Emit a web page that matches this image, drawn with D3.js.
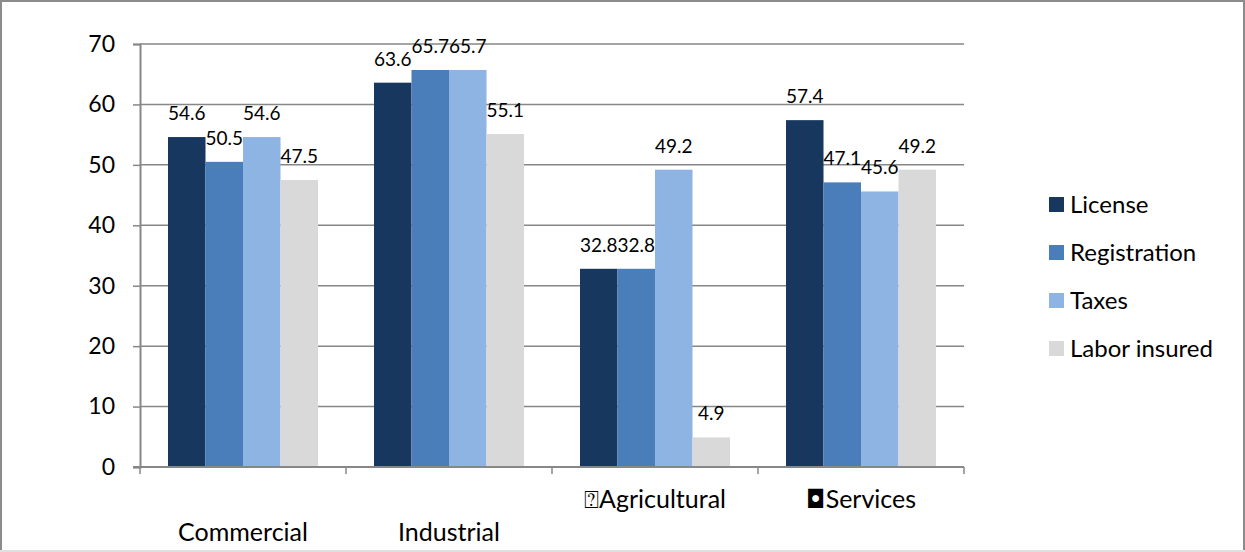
<!DOCTYPE html>
<html>
<head>
<meta charset="utf-8">
<script src="https://cdn.jsdelivr.net/npm/d3@7"></script>
<style>
  body { margin: 0; background: #fff; }
  svg text { font-family: Lato, "DejaVu Sans", sans-serif; fill: #000; }
</style>
</head>
<body>
<div id="chart"></div>
<script>
// categories and series
var categories = ["Commercial", "Industrial", "\u2370Agricultural", "\u25D8Services"];
var seriesNames = ["License", "Registration", "Taxes", "Labor insured"];
var license = [54.6, 63.6, 32.8, 57.4];
var registration = [50.5, 65.7, 32.8, 47.1];
var taxes = [54.6, 65.7, 49.2, 45.6];
var laborInsured = [47.5, 55.1, 4.9, 49.2];
var yTicks = [0, 10, 20, 30, 40, 50, 60, 70];

var seriesValues = [license, registration, taxes, laborInsured];
var colors = ["#17375E", "#4A7EBB", "#8EB4E3", "#D9D9D9"];

var W = 1245, H = 552;
var plot = {left: 140, right: 964, top: 44, bottom: 467};

var svg = d3.select("#chart").append("svg")
    .attr("width", W)
    .attr("height", H);

// outer frame
svg.append("rect")
   .attr("x", 1).attr("y", 1)
   .attr("width", W - 2).attr("height", H - 2)
   .attr("fill", "#fff")
   .attr("stroke", "#8c8c8c")
   .attr("stroke-width", 2);
svg.append("line")
   .attr("x1", 0).attr("x2", W)
   .attr("y1", H - 1).attr("y2", H - 1)
   .attr("stroke", "#e0e0e0").attr("stroke-width", 2);

var x = d3.scaleBand()
    .domain(categories)
    .range([plot.left, plot.right])
    .paddingInner(0).paddingOuter(0);

var xInner = d3.scaleBand()
    .domain(seriesNames)
    .range([28, x.bandwidth() - 28])
    .padding(0);

var y = d3.scaleLinear()
    .domain([0, 70])
    .range([plot.bottom, plot.top]);

// gridlines
svg.append("g")
   .selectAll("line")
   .data(yTicks.filter(function(d) { return d > 0; }))
   .enter().append("line")
   .attr("x1", plot.left).attr("x2", plot.right)
   .attr("y1", function(d) { return y(d); })
   .attr("y2", function(d) { return y(d); })
   .attr("stroke", "#878787")
   .attr("stroke-width", 1.5);

// y axis
var yAxis = svg.append("g")
    .attr("transform", "translate(" + plot.left + ",0)")
    .call(d3.axisLeft(y).tickValues(yTicks).tickSize(7).tickPadding(18));
yAxis.select(".domain").attr("stroke", "#878787").attr("stroke-width", 2);
yAxis.selectAll(".tick line").attr("stroke", "#878787").attr("stroke-width", 1.5);
yAxis.selectAll(".tick text")
     .style("font-size", "23px")
     .style("font-family", "Lato, sans-serif")
     .attr("fill", "#000");

// bars
var groups = svg.append("g")
    .selectAll("g")
    .data(categories)
    .enter().append("g")
    .attr("transform", function(d) { return "translate(" + x(d) + ",0)"; });

groups.selectAll("rect")
    .data(function(d, ci) {
      return seriesNames.map(function(s, si) {
        return {series: s, idx: si, value: seriesValues[si][ci]};
      });
    })
    .enter().append("rect")
    .attr("x", function(d) { return xInner(d.series); })
    .attr("y", function(d) { return y(d.value); })
    .attr("width", xInner.bandwidth())
    .attr("height", function(d) { return y(0) - y(d.value); })
    .attr("fill", function(d) { return colors[d.idx]; });

// value labels
groups.selectAll("text.value")
    .data(function(d, ci) {
      return seriesNames.map(function(s, si) {
        return {series: s, idx: si, value: seriesValues[si][ci]};
      });
    })
    .enter().append("text")
    .attr("class", "value")
    .attr("x", function(d) { return xInner(d.series) + xInner.bandwidth() / 2; })
    .attr("y", function(d) { return y(d.value) - 17; })
    .attr("text-anchor", "middle")
    .style("font-size", "19px")
    .text(function(d) { return d.value.toFixed(1); });

// x axis
var xAxisG = svg.append("g");
xAxisG.append("line")
   .attr("x1", plot.left - 7).attr("x2", plot.right)
   .attr("y1", plot.bottom).attr("y2", plot.bottom)
   .attr("stroke", "#878787").attr("stroke-width", 2);
xAxisG.selectAll("line.tick")
   .data(categories.concat(["end"]))
   .enter().append("line")
   .attr("class", "tick")
   .attr("x1", function(d, i) { return plot.left + i * x.bandwidth(); })
   .attr("x2", function(d, i) { return plot.left + i * x.bandwidth(); })
   .attr("y1", plot.bottom).attr("y2", plot.bottom + 7)
   .attr("stroke", "#878787").attr("stroke-width", 1.5);

// category labels, first two drop to a lower row like the original
xAxisG.selectAll("text")
   .data(categories)
   .enter().append("text")
   .attr("x", function(d) { return x(d) + x.bandwidth() / 2; })
   .attr("y", function(d, i) { return i < 2 ? 541 : 508; })
   .attr("text-anchor", "middle")
   .style("font-size", "25px")
   .style("font-family", "Lato, 'DejaVu Sans', sans-serif")
   .text(function(d) { return d; });

// legend
var legend = svg.append("g")
    .selectAll("g")
    .data(seriesNames)
    .enter().append("g")
    .attr("transform", function(d, i) { return "translate(1049," + (197 + i * 48) + ")"; });
legend.append("rect")
    .attr("width", 15).attr("height", 15)
    .attr("fill", function(d, i) { return colors[i]; });
legend.append("text")
    .attr("x", 21).attr("y", 16)
    .style("font-size", "24px")
    .text(function(d) { return d; });
</script>
</body>
</html>
